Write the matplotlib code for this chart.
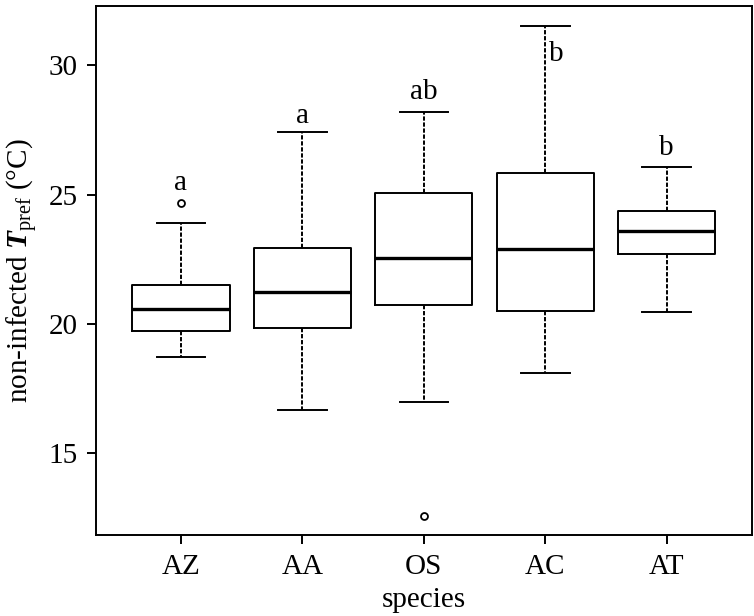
import matplotlib
matplotlib.use('Agg')
import matplotlib.pyplot as plt

plt.rcParams['font.family'] = 'Liberation Serif'
plt.rcParams['mathtext.fontset'] = 'custom'
plt.rcParams['mathtext.rm'] = 'Liberation Serif'
plt.rcParams['mathtext.it'] = 'Liberation Serif:italic'
plt.rcParams['mathtext.bf'] = 'Liberation Serif:bold:italic'

# values
species = ['AZ', 'AA', 'OS', 'AC', 'AT']
whis_low = [18.73, 16.66, 16.97, 18.09, 20.47]
q1 = [19.73, 19.83, 20.73, 20.50, 22.69]
median = [20.58, 21.22, 22.53, 22.90, 23.58]
q3 = [21.49, 22.92, 25.04, 25.84, 24.37]
whis_high = [23.91, 27.41, 28.20, 31.51, 26.05]
outliers = [[24.67], [], [12.58], [], []]
letters = ['a', 'a', 'ab', 'b', 'b']
letter_y = [25.17, 27.77, 28.71, 30.17, 26.51]

stats = []
for i in range(len(species)):
    stats.append({'label': species[i], 'whislo': whis_low[i], 'q1': q1[i],
                  'med': median[i], 'q3': q3[i], 'whishi': whis_high[i],
                  'fliers': outliers[i]})

fig = plt.figure(figsize=(7.54, 6.16), dpi=100)
ax = fig.add_axes([0.1273, 0.131, 0.997 - 0.1273, 0.990 - 0.131])

positions = list(range(1, len(species) + 1))
ax.bxp(stats, positions=positions, widths=0.8,
       boxprops=dict(color='black', linewidth=1.4),
       medianprops=dict(color='black', linewidth=2.4, solid_capstyle='butt'),
       whiskerprops=dict(color='black', linewidth=1.4, linestyle=(0, (2.2, 0.9))),
       capprops=dict(color='black', linewidth=1.4),
       flierprops=dict(marker='o', markersize=5, markerfacecolor='white',
                       markeredgecolor='black', markeredgewidth=1.3),
       capwidths=0.4)

# significance letters
for i, lab in enumerate(letters):
    x = positions[i] + (0.09 if lab == 'b' and i == 3 else 0)
    ax.text(x, letter_y[i], lab, ha='center', va='baseline', fontsize=21)

ax.set_xlim(0.3, 5.7)
ax.set_ylim(11.83, 32.28)
ax.set_yticks([15, 20, 25, 30])
ax.set_xticks(positions)
ax.set_xticklabels(species)
ax.tick_params(labelsize=21, length=6.5, width=1.4, color='black')
ax.tick_params(axis='y', pad=6.5)
ax.tick_params(axis='x', pad=7)
for s in ax.spines.values():
    s.set_linewidth(1.4)

fig.text((96 + 751.7) / 2 / 754, 1 - 607 / 616, 'species',
         ha='center', va='baseline', fontsize=21)
fig.text(28.3 / 754, 1 - 271 / 616, r'non-infected $\mathbf{T}_{\mathrm{pref}}$ (°C)',
         rotation=90, ha='center', va='baseline', rotation_mode='anchor', fontsize=21)

fig.savefig('out.png', dpi=100)
